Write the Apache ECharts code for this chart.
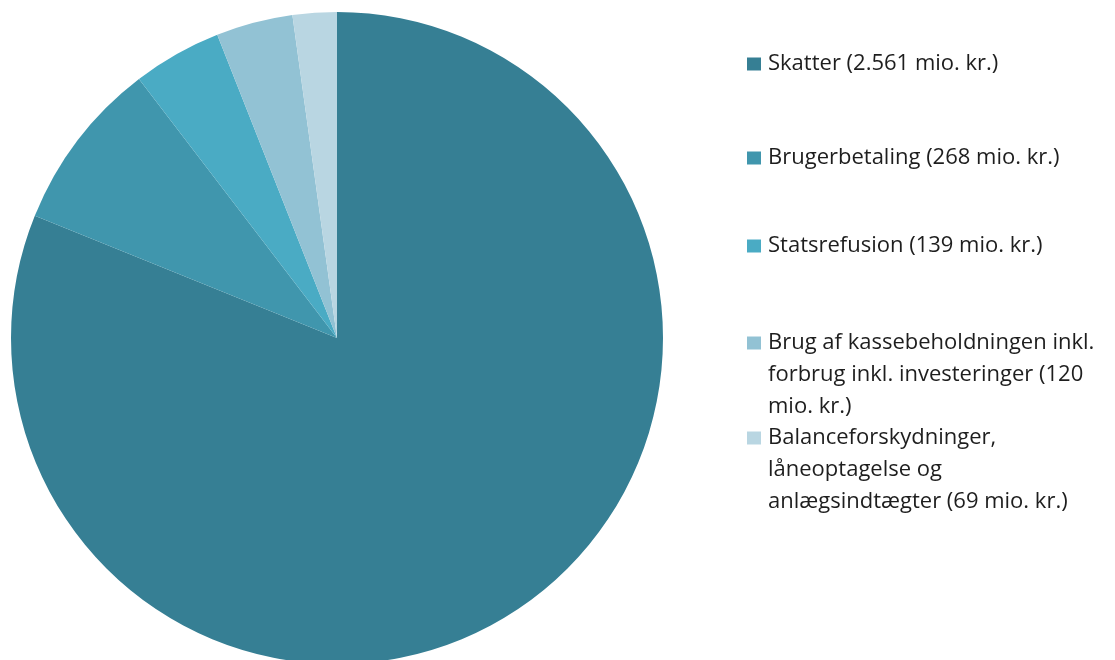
<!DOCTYPE html>
<html>
<head>
<meta charset="utf-8">
<script src="https://cdn.jsdelivr.net/npm/echarts@6/dist/echarts.min.js"></script>
<style>
html,body{margin:0;padding:0;background:#fff;}
#chart{width:1115px;height:660px;}
</style>
</head>
<body>
<div id="chart"></div>
<script>
// finansiering, mio. kr.
let names = [
  'Skatter (2.561 mio. kr.)',
  'Brugerbetaling (268 mio. kr.)',
  'Statsrefusion (139 mio. kr.)',
  'Brug af kassebeholdningen inkl. forbrug inkl. investeringer (120 mio. kr.)',
  'Balanceforskydninger, låneoptagelse og anlægsindtægter (69 mio. kr.)'
];
let values = [2561, 268, 139, 120, 69];
let colors = ['#367f94', '#4096ad', '#4aabc4', '#92c2d4', '#b9d6e2'];
// how the legend text is broken into lines
let legendLines = [
  ['Skatter (2.561 mio. kr.)'],
  ['Brugerbetaling (268 mio. kr.)'],
  ['Statsrefusion (139 mio. kr.)'],
  ['Brug af kassebeholdningen inkl.', 'forbrug inkl. investeringer (120', 'mio. kr.)'],
  ['Balanceforskydninger,', 'låneoptagelse og', 'anlægsindtægter (69 mio. kr.)']
];
// y of the first text line of each legend entry
let legendY = [64, 158, 246, 343, 438];

let lh = 32;
let legends = names.map(function (n, i) {
  let lines = legendLines[i];
  let pad = [];
  for (let k = 1; k < lines.length; k++) pad.push('');
  let txt = pad.concat(lines).join('\n');
  let total = pad.length + lines.length;
  return {
    data: [n],
    left: 747,
    top: legendY[i] - (total * lh) / 2,
    orient: 'vertical',
    icon: 'rect',
    itemWidth: 14,
    itemHeight: 13,
    itemGap: 9,
    padding: 0,
    selectedMode: false,
    formatter: function () { return txt; },
    textStyle: {
      fontFamily: 'Open Sans',
      fontSize: 22,
      color: '#1e1e1e',
      lineHeight: lh,
      padding: [0, 0, 0, 2]
    }
  };
});

let chart = echarts.init(document.getElementById('chart'));
chart.setOption({
  animation: false,
  color: colors,
  legend: legends,
  series: [
    {
      type: 'pie',
      center: [337, 338],
      radius: 326,
      startAngle: 90,
      clockwise: true,
      label: { show: false },
      labelLine: { show: false },
      emphasis: { disabled: true },
      itemStyle: { borderWidth: 0 },
      data: names.map(function (n, i) {
        return { name: n, value: values[i] };
      })
    }
  ]
});
</script>
</body>
</html>
